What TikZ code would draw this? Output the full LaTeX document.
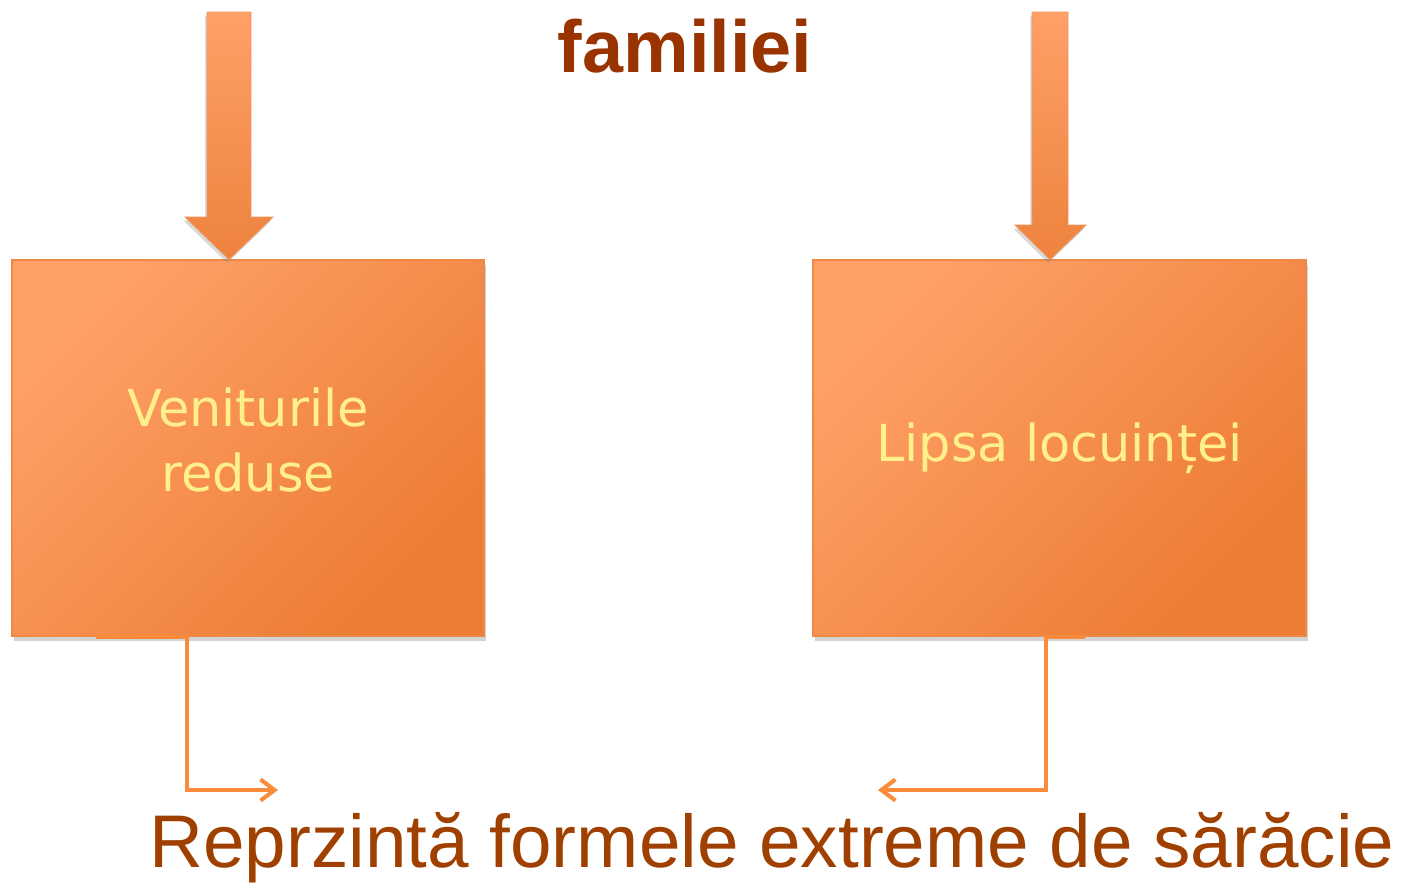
\documentclass[tikz,border=0pt]{standalone}
\usepackage{fontspec}
\setmainfont{Liberation Sans}
\newfontfamily\boxfont{DejaVu Sans}
\usetikzlibrary{positioning,arrows.meta,shadows}

\definecolor{boxlight}{HTML}{FFA068}
\definecolor{boxdark}{HTML}{EC7C33}
\definecolor{boxtext}{HTML}{FFF08C}
\definecolor{titlebrown}{HTML}{993300}
\definecolor{footbrown}{HTML}{A04000}
\definecolor{connorange}{HTML}{FA8A3C}

\begin{document}
\begin{tikzpicture}[
    x=0.02cm, y=-0.02cm,
    cause/.style={
      rectangle, draw=boxdark!90!white, line width=0.6pt,
      left color=boxlight, right color=boxdark, shading angle=45,
      minimum width=#1*0.02cm, minimum height=376*0.02cm,
      inner sep=0pt, align=center, text=boxtext,
      font=\boxfont\fontsize{29}{37}\selectfont,
      drop shadow={shadow xshift=1pt, shadow yshift=-3pt, opacity=0.35}
    },
    bigarrow/.style={
      top color=boxlight, bottom color=boxdark!95!white,
      draw=boxdark!80!white, line width=0.5pt,
      drop shadow={shadow xshift=-1pt, shadow yshift=-2pt, opacity=0.3}
    },
    elbow/.style={
      draw=connorange, line width=2.3pt,
      -{Straight Barb[length=8pt, width=12pt, line width=2.3pt]}
    }
  ]

  % page frame
  \useasboundingbox (0,0) rectangle (1402,883);

  % titles
  \node[font=\bfseries\fontsize{42}{46}\selectfont, text=titlebrown]
    (title) at (685,46) {familiei};
  \node[font=\fontsize{42.5}{48}\selectfont, text=footbrown]
    (result) at (772,848) {Reprzintă formele extreme de sărăcie};

  % the two boxes
  \node[cause=472] (income) at (248,448) {Veniturile\\reduse\vspace*{9pt}};
  \node[cause=493] (house) at (1059.5,448) {Lipsa locuinței};

  % arrows into the boxes
  \path[bigarrow] (207,12) -- (251,12) -- (251,217) -- (273,217)
    -- (income.north -| 229,0) -- (185,217) -- (207,217) -- cycle;
  \path[bigarrow] (1032,12) -- (1068,12) -- (1068,225) -- (1086,225)
    -- (house.north -| 1050,0) -- (1015,225) -- (1032,225) -- cycle;

  % connectors to the result
  \coordinate (incomeend) at (278,790);
  \coordinate (houseend) at (878,790);
  \draw[elbow] (income.south -| 96,0) -- (income.south -| 187,0)
    |- (incomeend);
  \draw[elbow] (house.south -| 1085,0) -- (house.south -| 1046,0)
    |- (houseend);

\end{tikzpicture}
\end{document}
